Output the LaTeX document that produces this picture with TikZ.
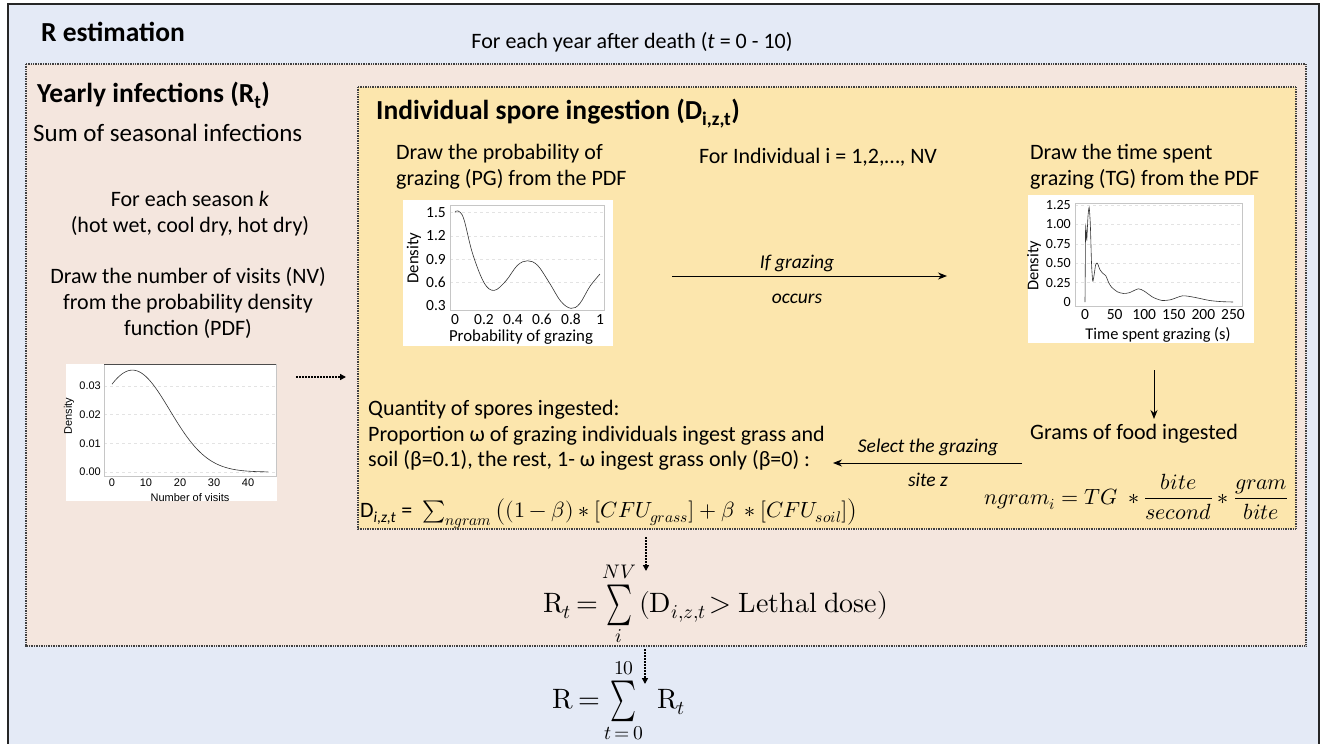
\documentclass[tikz,border=0pt]{standalone}
\usepackage{graphicx}
\usepackage{fontspec}
\usepackage{unicode-math}
\setmainfont{Carlito}
\setmathfont{Latin Modern Math}
\newfontfamily\arialf{Liberation Sans}
\usetikzlibrary{arrows.meta}
\definecolor{bluebg}{HTML}{E4EAF6}
\definecolor{pinkbg}{HTML}{F4E6DE}
\definecolor{yelbg}{HTML}{FCE6AD}
\newcommand{\tallsum}{\mathop{\vcenter{\hbox{\scalebox{0.88}[1.45]{$\textstyle\sum$}}}}\limits}
\begin{document}
\begin{tikzpicture}[x=1pt,y=-1pt,
  txt/.style={inner sep=0, font=\fontsize{22}{26}\selectfont},
  big/.style={inner sep=0, font=\fontsize{25}{28}\selectfont},
  ttl/.style={inner sep=0, font=\fontsize{27.5}{30}\selectfont\bfseries},
  lbl/.style={inner sep=0, font=\fontsize{19.5}{22}\selectfont\itshape},
  tick/.style={inner sep=0, font=\fontsize{15.5}{17}\selectfont},
  ttick/.style={inner sep=0, font=\fontsize{14}{16}\selectfont},
  atick/.style={inner sep=0, font=\arialf\fontsize{11}{13}\selectfont},
  arr/.style={-{Stealth[length=9pt,width=7pt]}, line width=1pt},
  dotarr/.style={-{Triangle[length=6pt,width=6pt]}, line width=1.6pt, dash pattern=on 1.6pt off 1.4pt},
  boxd/.style={draw=black!75, line width=1.3pt, dash pattern=on 1pt off 0.7pt},
  plotbg/.style={fill=white, draw=none, inner sep=0, anchor=north west},
  frame/.style={draw=gray!45, line width=0.6pt},
  grid/.style={draw=gray!22, line width=0.5pt, dashed},
  curve/.style={draw=black!80, line width=0.6pt}
]
\useasboundingbox (0,0) rectangle (1326,744);
% outer box
\fill[bluebg] (8,4) rectangle (1319,744);
\draw[black!85, line width=1.5pt] (8,744) -- (8,4) -- (1319,4) -- (1319,744);
% pink box
\fill[pinkbg] (26,64) rectangle (1306,646);
\draw[boxd] (26,64) rectangle (1306,646);
% yellow box
\fill[yelbg] (358,87) rectangle (1296,529);
\draw[boxd] (358,87) rectangle (1296,529);

% titles and texts
\node[ttl, anchor=base west] (rest) at (41,41) {R estimation};
\node[txt, anchor=base] (year) at (632,48) {For each year after death (\textit{t} = 0 - 10)};
\node[ttl, anchor=base west] (yearly) at (37,102) {Yearly infections (R\textsubscript{t})};
\node[big, anchor=base west] (sum) at (33,141) {Sum of seasonal infections};
\node[txt, anchor=base] (season1) at (190,206) {For each season \textit{k}};
\node[txt, anchor=base] (season2) at (190,232) {(hot wet, cool dry, hot dry)};
\node[txt, anchor=base] (nv1) at (188,283) {Draw the number of visits (NV)};
\node[txt, anchor=base] (nv2) at (188,309) {from the probability density};
\node[txt, anchor=base] (nv3) at (188,335) {function (PDF)};

\node[ttl, anchor=base west] (indiv) at (376,119) {Individual spore ingestion (D\textsubscript{i,z,t})};
\node[txt, anchor=base west] (pg1) at (396,159) {Draw the probability of};
\node[txt, anchor=base west] (pg2) at (396,185) {grazing (PG) from the PDF};
\node[txt, anchor=base] (forind) at (818,163) {For Individual i = 1,2,…, NV};
\node[txt, anchor=base west] (tg1) at (1030,159) {Draw the time spent};
\node[txt, anchor=base west] (tg2) at (1030,185) {grazing (TG) from the PDF};

\node[lbl, anchor=base] (ifg) at (797,268) {If grazing};
\node[lbl, anchor=base] (occ) at (797,303) {occurs};
\node[txt, anchor=base west] (grams) at (1030,439) {Grams of food ingested};
\node[lbl, anchor=base] (sel) at (928,452) {Select the grazing};
\node[lbl, anchor=base] (site) at (928,486) {site z};

\node[txt, anchor=base west] (q1) at (368,415) {Quantity of spores ingested:};
\node[txt, anchor=base west] (q2) at (368,441) {Proportion ω of grazing individuals ingest grass and};
\node[txt, anchor=base west] (q3) at (368,466) {soil (β=0.1), the rest, 1- ω ingest grass only (β=0) :};

\node[inner sep=0, anchor=base west, font=\fontsize{22}{24}\selectfont] (dform) at (360,517)
  {D\textsubscript{\textit{i,z,t}} = \ $\sum_{ngram}\left((1-\beta)\ast[CFU_{grass}]+\beta\ \ast[CFU_{soil}]\right)$};
\node[inner sep=0, anchor=west, font=\fontsize{22}{26}\selectfont] (ngram) at (984,497)
  {$\displaystyle ngram_i = TG\ \ast\frac{bite}{second}\ast\frac{gram}{bite}$};

\node[inner sep=0, anchor=base west, font=\fontsize{28}{30}\selectfont] (rt) at (543,612)
  {$\symup{R}_t\mskip3mu{=}\tallsum_{i}^{NV}\mskip2mu (\symup{D}_{i,z,t}\!> \symup{Lethal\ dose})$};
\node[inner sep=0, anchor=base west, font=\fontsize{28}{30}\selectfont] (rr) at (552,708)
  {$\symup{R}\mskip3mu{=}\tallsum_{t\,=\,0}^{10}\mskip6mu \symup{R}_t$};

% ---------- NV plot ----------
\node[plotbg, minimum width=211pt, minimum height=137pt] (nvplot) at (66,364) {};
\foreach \v [count=\i] in {1,2,3}
  \draw[grid] (104,{472-\v*28.7}) -- (276,{472-\v*28.7});
\draw[grid] (104,472) -- (276,472);
\draw[frame] (104,364) rectangle (276,476);
\draw[black!70, line width=0.8pt] (104,364) -- (276,364);
\foreach \v/\l [count=\i] in {0/0.00,1/0.01,2/0.02,3/0.03}
  \node[atick, anchor=east] (nvy\i) at (101,{472-\v*28.7}) {\l};
\foreach \v [count=\i] in {0,10,20,30,40}
  \node[atick, anchor=north] (nvx\i) at ({112+3.4*\v},479) {\v};
\node[atick, anchor=base] (nvxl) at (190,501) {Number of visits};
\node[atick, rotate=90, anchor=center] (nvyl) at (69,416) {Density};
\begin{scope}[shift={(112,472)}, x=3.4pt, y=28.7pt]
  \draw[curve] plot[domain=0:46, samples=80, smooth] (\x,{3.55*exp(-((\x-6)^2)/242)});
\end{scope}

% ---------- PG plot ----------
\node[plotbg, minimum width=210pt, minimum height=146pt] (pgplot) at (403,200) {};
\foreach \v [count=\i] in {0.6,0.9,1.2,1.5}
  \draw[grid] (450,{306-(\v-0.3)*78}) -- (604,{306-(\v-0.3)*78});
\draw[frame] (450,205) rectangle (604,310);
\foreach \v [count=\i] in {0.3,0.6,0.9,1.2,1.5}
  \node[tick, anchor=east] (pgy\i) at (446,{306-(\v-0.3)*78}) {\v};
\foreach \p/\l [count=\i] in {0/0,0.2/0.2,0.4/0.4,0.6/0.6,0.8/0.8,1/1}
  \node[tick, anchor=north] (pgx\i) at ({455+145*\p},314) {\l};
\node[tick, font=\fontsize{16.8}{18}\selectfont, anchor=base] (pgxl) at (521,341) {Probability of grazing};
\node[tick, font=\fontsize{16.8}{18}\selectfont, rotate=90, anchor=center] (pgyl) at (414,258) {Density};
\begin{scope}[shift={(455,329.4)}, x=145pt, y=78pt]
  \draw[curve] plot[smooth, tension=0.6] coordinates {(0,1.5) (0.02,1.52) (0.06,1.42) (0.12,0.98) (0.2,0.6) (0.27,0.5) (0.35,0.62) (0.43,0.82) (0.5,0.88) (0.57,0.82) (0.65,0.6) (0.73,0.36) (0.8,0.27) (0.86,0.33) (0.93,0.55) (1,0.71)};
\end{scope}

% ---------- TG plot ----------
\node[plotbg, minimum width=226pt, minimum height=148pt] (tgplot) at (1028,195) {};
\foreach \v [count=\i] in {0.25,0.5,0.75,1.0,1.25}
  \draw[grid] (1075,{302-\v*77.6}) -- (1242,{302-\v*77.6});
\draw[frame] (1075,203) rectangle (1242,306);
\foreach \v/\l [count=\i] in {0/0,0.25/0.25,0.5/0.50,0.75/0.75,1/1.00,1.25/1.25}
  \node[ttick, anchor=east] (tgy\i) at (1071,{302-\v*77.6}) {\l};
\foreach \v [count=\i] in {0,50,100,150,200,250}
  \node[tick, anchor=north] (tgx\i) at ({1085+0.592*\v},309) {\v};
\node[tick, font=\fontsize{16.4}{18}\selectfont, anchor=base] (tgxl) at (1158,339) {Time spent grazing (s)};
\node[tick, font=\fontsize{16.4}{18}\selectfont, rotate=90, anchor=center] (tgyl) at (1034,266) {Density};
\begin{scope}[shift={(1085,302)}, x=0.592pt, y=77.6pt]
  \draw[curve] plot[smooth, tension=0.4] coordinates {(0,0) (0.5,0.5) (1,0.97) (2,0.9) (3,0.8) (5,1.1) (7,1.22) (9,1.0) (11,0.5) (13,0.27) (15,0.33) (18,0.48) (21,0.5) (25,0.42) (30,0.37) (35,0.34) (40,0.25) (45,0.19) (55,0.13) (65,0.11) (75,0.12) (90,0.17) (100,0.14) (115,0.06) (130,0.02) (145,0.03) (165,0.08) (185,0.06) (210,0.02) (230,0.005) (250,0)};
\end{scope}

% ---------- arrows ----------
\coordinate (d1s) at (296,377); \coordinate (d1e) at (346,377);
\draw[dotarr] (d1s) -- (d1e);
\coordinate (g1s) at (672,276); \coordinate (g1e) at (947,276);
\draw[arr] (g1s) -- (g1e);
\coordinate (v1s) at (1154,370); \coordinate (v1e) at (1154,419);
\draw[arr] (v1s) -- (v1e);
\coordinate (s1s) at (1022,463); \coordinate (s1e) at (833,463);
\draw[arr] (s1s) -- (s1e);
\coordinate (d2s) at (646,537); \coordinate (d2e) at (646,571);
\draw[dotarr] (d2s) -- (d2e);
\coordinate (d3s) at (645,649); \coordinate (d3e) at (645,684);
\draw[dotarr] (d3s) -- (d3e);
\end{tikzpicture}
\end{document}
